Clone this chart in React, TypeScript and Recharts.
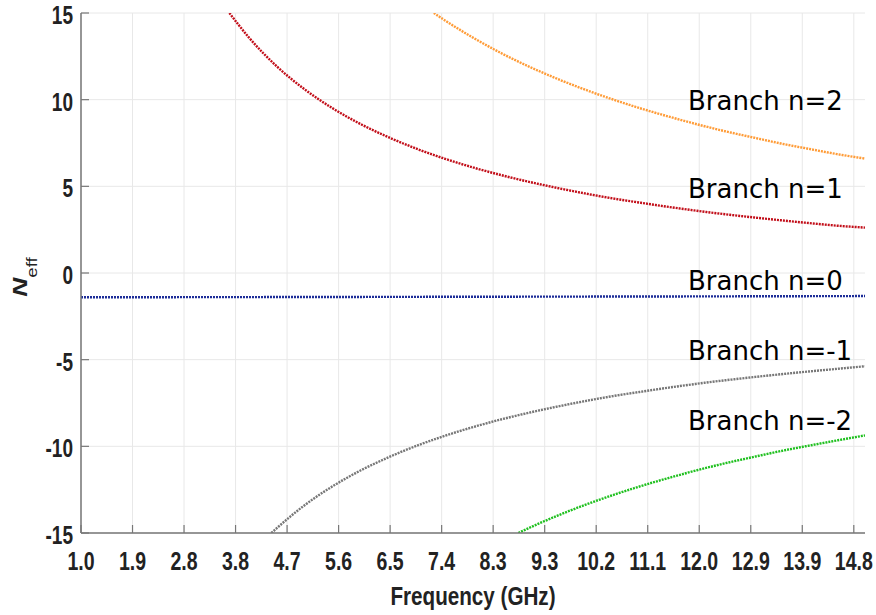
import { LineChart, Line, XAxis, YAxis, CartesianGrid } from "recharts";

// frequency (GHz) / effective index, one pair of arrays per branch
const freqN2 = [7.3, 7.5, 8, 8.5, 9, 9.5, 10, 10.5, 11, 11.5, 12, 12.5, 13, 13.5, 14, 14.5, 15];
const neffN2 = [15.0, 14.57, 13.58, 12.69, 11.91, 11.21, 10.58, 10.01, 9.49, 9.02, 8.58, 8.18, 7.82, 7.47, 7.16, 6.86, 6.6];

const freqN1 = [3.65, 4, 4.5, 5, 5.5, 6, 6.5, 7, 7.5, 8, 8.5, 9, 9.5, 10, 10.5, 11, 11.5, 12, 12.5, 13, 13.5, 14, 14.5, 15];
const neffN1 = [15.0, 13.58, 11.91, 10.58, 9.49, 8.58, 7.82, 7.16, 6.59, 6.09, 5.65, 5.26, 4.91, 4.59, 4.3, 4.05, 3.81, 3.59, 3.39, 3.21, 3.04, 2.88, 2.73, 2.62];

const freqN0 = [1, 4, 8, 12, 15];
const neffN0 = [-1.4, -1.39, -1.37, -1.35, -1.33];

const freqNm1 = [4.4, 4.5, 5, 5.5, 6, 6.5, 7, 7.5, 8, 8.5, 9, 9.5, 10, 10.5, 11, 11.5, 12, 12.5, 13, 13.5, 14, 14.5, 15];
const neffNm1 = [-15.0, -14.71, -13.38, -12.29, -11.38, -10.62, -9.96, -9.39, -8.89, -8.45, -8.06, -7.71, -7.39, -7.1, -6.85, -6.61, -6.39, -6.19, -6.01, -5.84, -5.68, -5.53, -5.38];

const freqNm2 = [8.81, 9, 9.5, 10, 10.5, 11, 11.5, 12, 12.5, 13, 13.5, 14, 14.5, 15];
const neffNm2 = [-15.0, -14.71, -14.01, -13.38, -12.81, -12.29, -11.82, -11.38, -10.98, -10.62, -10.27, -9.96, -9.66, -9.37];

const xTicks = [1.0, 1.92, 2.84, 3.76, 4.68, 5.6, 6.52, 7.44, 8.36, 9.28, 10.2, 11.12, 12.04, 12.96, 13.88, 14.8];
const xTickLabels = ["1.0", "1.9", "2.8", "3.8", "4.7", "5.6", "6.5", "7.4", "8.3", "9.3", "10.2", "11.1", "12.0", "12.9", "13.9", "14.8"];
const yTicks = [-15, -10, -5, 0, 5, 10, 15];

const branchNames = ["Branch n=2", "Branch n=1", "Branch n=0", "Branch n=-1", "Branch n=-2"];

const toRows = (f: number[], n: number[]) => f.map((v, i) => ({ f: v, n: n[i] }));

const series = [
  { name: "n=2", data: toRows(freqN2, neffN2), color: "#ff9c38" },
  { name: "n=1", data: toRows(freqN1, neffN1), color: "#c20f1a" },
  { name: "n=0", data: toRows(freqN0, neffN0), color: "#1c2c98" },
  { name: "n=-1", data: toRows(freqNm1, neffNm1), color: "#777777" },
  { name: "n=-2", data: toRows(freqNm2, neffNm2), color: "#1fc01f" },
];

const labelBaselines = [110, 198, 290, 360, 430];

const tickFont = "'Liberation Sans', Arial, sans-serif";

const BottomTick = (props: any) => {
  const { x, y, payload } = props;
  const idx = xTicks.indexOf(payload.value);
  return (
    <g>
      <line x1={x} y1={y} x2={x} y2={y - 8} stroke="#777" strokeWidth={1.2} />
      <text
        transform={`translate(${x},${y + 37}) scale(0.78,1)`}
        textAnchor="middle"
        fontFamily={tickFont}
        fontWeight="bold"
        fontSize={25}
        fill="#222"
      >
        {xTickLabels[idx]}
      </text>
    </g>
  );
};

const TopTick = (props: any) => {
  const { x, y } = props;
  return <line x1={x} y1={y} x2={x} y2={y + 8} stroke="#777" strokeWidth={1.2} />;
};

const LeftTick = (props: any) => {
  const { x, y, payload } = props;
  return (
    <g>
      <line x1={x} y1={y} x2={x + 8} y2={y} stroke="#777" strokeWidth={1.2} />
      <text
        transform={`translate(${x - 8},${y + 11}) scale(0.76,1)`}
        textAnchor="end"
        fontFamily={tickFont}
        fontWeight="bold"
        fontSize={25}
        fill="#222"
      >
        {payload.value}
      </text>
    </g>
  );
};

const RightTick = (props: any) => {
  const { x, y } = props;
  return <line x1={x} y1={y} x2={x - 8} y2={y} stroke="#777" strokeWidth={1.2} />;
};

export default function App() {
  return (
    <div style={{ position: "absolute", left: 0, top: 0, width: 876, height: 615, background: "#fff" }}>
      <LineChart width={876} height={615} margin={{ top: 13, right: 11, bottom: 0, left: 0 }}>
        <CartesianGrid stroke="#e8e8e8" strokeWidth={1} horizontalValues={yTicks} verticalValues={xTicks} />
        <XAxis
          type="number"
          dataKey="f"
          domain={[1, 15]}
          ticks={xTicks}
          height={82}
          tickSize={0}
          tickMargin={0}
          tick={<BottomTick />}
          axisLine={{ stroke: "#777", strokeWidth: 1.5 }}
          allowDataOverflow
        />
        <XAxis
          xAxisId="top"
          orientation="top"
          type="number"
          dataKey="f"
          domain={[1, 15]}
          ticks={xTicks}
          height={0}
          tickSize={0}
          tickMargin={0}
          tick={<TopTick />}
          axisLine={{ stroke: "#9a9a9a", strokeWidth: 2 }}
          allowDataOverflow
        />
        <YAxis
          type="number"
          dataKey="n"
          domain={[-15, 15]}
          ticks={yTicks}
          width={81}
          tickSize={0}
          tickMargin={0}
          tick={<LeftTick />}
          axisLine={{ stroke: "#777", strokeWidth: 1.5 }}
          allowDataOverflow
        />
        <YAxis
          yAxisId="right"
          orientation="right"
          type="number"
          dataKey="n"
          domain={[-15, 15]}
          ticks={yTicks}
          width={0}
          tickSize={0}
          tickMargin={0}
          tick={<RightTick />}
          axisLine={{ stroke: "#9a9a9a", strokeWidth: 1.5 }}
          allowDataOverflow
        />
        {series.map((s) => (
          <Line
            key={s.name}
            data={s.data}
            dataKey="n"
            type="monotone"
            stroke={s.color}
            strokeWidth={2.4}
            strokeDasharray="2 1"
            dot={false}
            activeDot={false}
            isAnimationActive={false}
          />
        ))}
        {branchNames.map((t, i) => (
          <text key={t} x={688} y={labelBaselines[i]} fontFamily="'DejaVu Sans', Verdana, sans-serif" fontSize={26} fill="#000">
            {t}
          </text>
        ))}
        <text
          x={473}
          y={605}
          textAnchor="middle"
          textLength={165}
          lengthAdjust="spacingAndGlyphs"
          fontFamily={tickFont}
          fontWeight="bold"
          fontSize={25}
          fill="#222"
        >
          Frequency (GHz)
        </text>
        <text
          transform="translate(27,277) rotate(-90) scale(1.25,1)"
          textAnchor="middle"
          fontFamily={tickFont}
          fill="#222"
        >
          <tspan fontSize={21} fontWeight="bold" fontStyle="italic">N</tspan>
          <tspan fontSize={15} dy={10}>eff</tspan>
        </text>
      </LineChart>
    </div>
  );
}
